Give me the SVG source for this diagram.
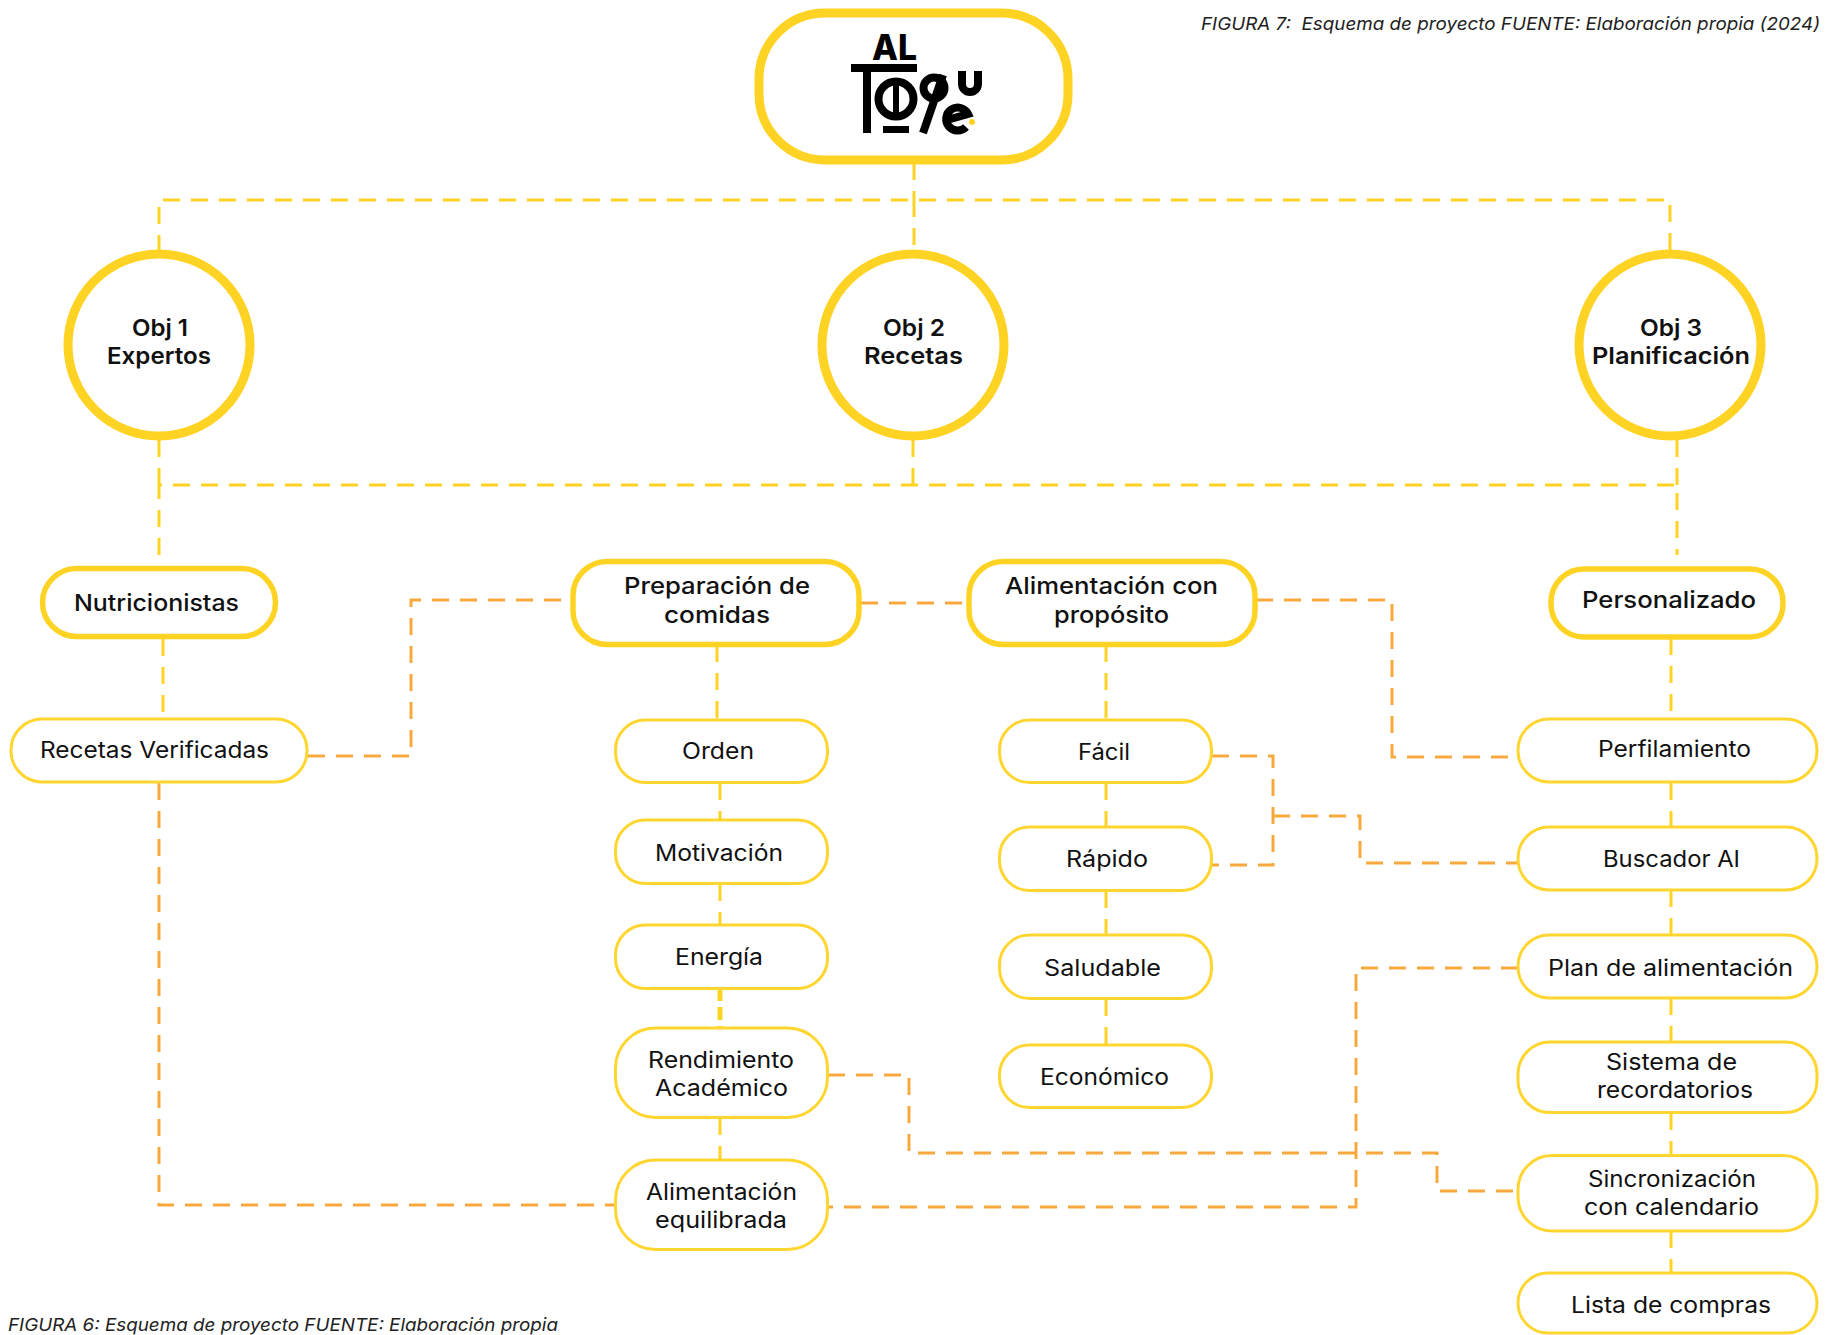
<svg xmlns="http://www.w3.org/2000/svg" width="1829" height="1335" viewBox="0 0 1829 1335">
<style>
text{font-family:Inter,"Open Sans",sans-serif;fill:#111;font-size:22.500px}
.b{font-weight:600;font-size:23px}
.m{font-weight:500;font-size:23.500px}
.cap{font-style:italic;font-size:17.500px;fill:#222;white-space:pre}
.big{fill:#fff;stroke:#FFD324;stroke-width:9}
.mid{fill:#fff;stroke:#FFD324;stroke-width:5.500}
.sm{fill:#fff;stroke:#FFD630;stroke-width:3}
.y{fill:none;stroke:#FFD324;stroke-width:3;stroke-dasharray:17 11}
.o{fill:none;stroke:#F7A93E;stroke-width:3;stroke-dasharray:17 11}
.k{fill:none;stroke:#000;stroke-width:8}
</style>
<rect width="1829" height="1335" fill="#fff"/>
<g id="connectors">
<path class="y" d="M914 163V200M159 252V200H1670V252M914 200V252"/>
<path class="y" d="M913 440V485M159 555V485H1677V555M159 440V485M1677 440V485"/>
<path class="y" d="M163 639V718M717 645V720M720 783V820M720 884V925M720 1118V1160M1106 645V720M1106 783V827M1106 891V935M1106 999V1045M1671 638V718M1671 783V826M1671 890V935M1671 998V1042M1671 1113V1155M1671 1231V1273"/>
<path class="y" style="stroke-width:5;stroke-dasharray:13 6" d="M720 988V1028"/>
<path class="o" d="M308 756H411V600H570"/>
<path class="o" d="M861 603H967"/>
<path class="o" d="M1256 600H1392V757H1518"/>
<path class="o" d="M1212 756H1273V865H1212"/>
<path class="o" d="M1273 816H1360V863H1518"/>
<path class="o" d="M1518 968H1356V1207H828"/>
<path class="o" d="M828 1075H909V1153H1437V1191H1518"/>
<path class="o" d="M159 783V1205H615"/>
</g>
<g id="node-logo">
<rect class="big" x="759" y="13" width="309" height="147" rx="66"/>
<text x="872" y="60" style="font-size:36px;font-weight:800;fill:#000" textLength="45" lengthAdjust="spacingAndGlyphs">AL</text>
<path d="M851 64H917V72H851ZM863 72H871V133H863ZM883 126H909V133H883Z" fill="#000"/>
<circle class="k" cx="896" cy="99" r="17.500"/>
<path d="M896 78V120" class="k" style="stroke-width:6"/>
<circle class="k" cx="934" cy="88" r="10.500"/>
<path class="k" d="M943 75L923 133"/>
<path class="k" d="M962 71V84A8 8 0 0 0 978 84V71"/>
<path class="k" d="M947 120L968 114A11.500 11.500 0 1 0 966 127"/>
<circle cx="972" cy="122" r="3" fill="#FFD324"/>
</g>
<g id="node-obj1"><circle class="big" cx="159" cy="345" r="91"/><text class="b" x="132" y="336" textLength="56" lengthAdjust="spacingAndGlyphs">Obj 1</text><text class="b" x="107" y="364" textLength="104" lengthAdjust="spacingAndGlyphs">Expertos</text></g>
<g id="node-obj2"><circle class="big" cx="913" cy="345" r="91"/><text class="b" x="883" y="336" textLength="62" lengthAdjust="spacingAndGlyphs">Obj 2</text><text class="b" x="864" y="364" textLength="99" lengthAdjust="spacingAndGlyphs">Recetas</text></g>
<g id="node-obj3"><circle class="big" cx="1670" cy="345" r="91"/><text class="b" x="1640" y="336" textLength="62" lengthAdjust="spacingAndGlyphs">Obj 3</text><text class="b" x="1592" y="364" textLength="158" lengthAdjust="spacingAndGlyphs">Planificación</text></g>
<g id="node-nutricionistas"><rect class="mid" x="42.500" y="568.500" width="233" height="68" rx="34"/><text class="m" x="74" y="611" textLength="165" lengthAdjust="spacingAndGlyphs">Nutricionistas</text></g>
<g id="node-preparacion"><rect class="mid" x="573" y="561.500" width="286" height="83" rx="34"/><text class="m" x="624" y="594" textLength="186" lengthAdjust="spacingAndGlyphs">Preparación de</text><text class="m" x="664" y="623" textLength="106" lengthAdjust="spacingAndGlyphs">comidas</text></g>
<g id="node-alimentacion-proposito"><rect class="mid" x="969" y="561.500" width="286" height="83" rx="34"/><text class="m" x="1005" y="594" textLength="213" lengthAdjust="spacingAndGlyphs">Alimentación con</text><text class="m" x="1054" y="623" textLength="115" lengthAdjust="spacingAndGlyphs">propósito</text></g>
<g id="node-personalizado"><rect class="mid" x="1551" y="569" width="232" height="68" rx="33"/><text class="m" x="1582" y="608" textLength="174" lengthAdjust="spacingAndGlyphs">Personalizado</text></g>
<g id="node-recetas-verificadas"><rect class="sm" x="11" y="719" width="296" height="63" rx="31"/><text x="40" y="758" textLength="229" lengthAdjust="spacingAndGlyphs">Recetas Verificadas</text></g>
<g id="node-orden"><rect class="sm" x="615.500" y="720" width="212" height="62.500" rx="30"/><text x="682" y="759" textLength="72" lengthAdjust="spacingAndGlyphs">Orden</text></g>
<g id="node-motivacion"><rect class="sm" x="615.500" y="820" width="212" height="63.500" rx="30"/><text x="655" y="861" textLength="128" lengthAdjust="spacingAndGlyphs">Motivación</text></g>
<g id="node-energia"><rect class="sm" x="615.500" y="925" width="212" height="63.500" rx="30"/><text x="675" y="965" textLength="88" lengthAdjust="spacingAndGlyphs">Energía</text></g>
<g id="node-rendimiento"><rect class="sm" x="615.500" y="1028" width="212" height="89.500" rx="40"/><text x="648" y="1068" textLength="146" lengthAdjust="spacingAndGlyphs">Rendimiento</text><text x="655" y="1096" textLength="133" lengthAdjust="spacingAndGlyphs">Académico</text></g>
<g id="node-alimentacion-equilibrada"><rect class="sm" x="615.500" y="1160" width="212" height="89.500" rx="40"/><text x="646" y="1200" textLength="151" lengthAdjust="spacingAndGlyphs">Alimentación</text><text x="655" y="1228" textLength="132" lengthAdjust="spacingAndGlyphs">equilibrada</text></g>
<g id="node-facil"><rect class="sm" x="999.500" y="720" width="212" height="62.500" rx="30"/><text x="1078" y="760" textLength="52" lengthAdjust="spacingAndGlyphs">Fácil</text></g>
<g id="node-rapido"><rect class="sm" x="999.500" y="827" width="212" height="63.500" rx="30"/><text x="1066" y="867" textLength="82" lengthAdjust="spacingAndGlyphs">Rápido</text></g>
<g id="node-saludable"><rect class="sm" x="999.500" y="935" width="212" height="63.500" rx="30"/><text x="1044" y="976" textLength="117" lengthAdjust="spacingAndGlyphs">Saludable</text></g>
<g id="node-economico"><rect class="sm" x="999.500" y="1045" width="212" height="62.500" rx="30"/><text x="1040" y="1085" textLength="129" lengthAdjust="spacingAndGlyphs">Económico</text></g>
<g id="node-perfilamiento"><rect class="sm" x="1518" y="719" width="299" height="63" rx="31"/><text x="1598" y="757" textLength="153" lengthAdjust="spacingAndGlyphs">Perfilamiento</text></g>
<g id="node-buscador"><rect class="sm" x="1518" y="827" width="299" height="63" rx="31"/><text x="1603" y="867" textLength="137" lengthAdjust="spacingAndGlyphs">Buscador AI</text></g>
<g id="node-plan"><rect class="sm" x="1518" y="935" width="299" height="63" rx="31"/><text x="1548" y="976" textLength="245" lengthAdjust="spacingAndGlyphs">Plan de alimentación</text></g>
<g id="node-sistema"><rect class="sm" x="1518" y="1042" width="299" height="70.500" rx="32"/><text x="1606" y="1070" textLength="131" lengthAdjust="spacingAndGlyphs">Sistema de</text><text x="1597" y="1098" textLength="156" lengthAdjust="spacingAndGlyphs">recordatorios</text></g>
<g id="node-sincronizacion"><rect class="sm" x="1518" y="1155.500" width="299" height="75.500" rx="34"/><text x="1588" y="1187" textLength="168" lengthAdjust="spacingAndGlyphs">Sincronización</text><text x="1584" y="1215" textLength="175" lengthAdjust="spacingAndGlyphs">con calendario</text></g>
<g id="node-lista"><rect class="sm" x="1518" y="1273" width="299" height="60" rx="30"/><text x="1571" y="1313" textLength="200" lengthAdjust="spacingAndGlyphs">Lista de compras</text></g>
<text class="cap" x="1201" y="30" textLength="619" lengthAdjust="spacingAndGlyphs">FIGURA 7:  Esquema de proyecto FUENTE: Elaboración propia (2024)</text>
<text class="cap" x="8" y="1331" textLength="550" lengthAdjust="spacingAndGlyphs">FIGURA 6: Esquema de proyecto FUENTE: Elaboración propia</text>
</svg>
